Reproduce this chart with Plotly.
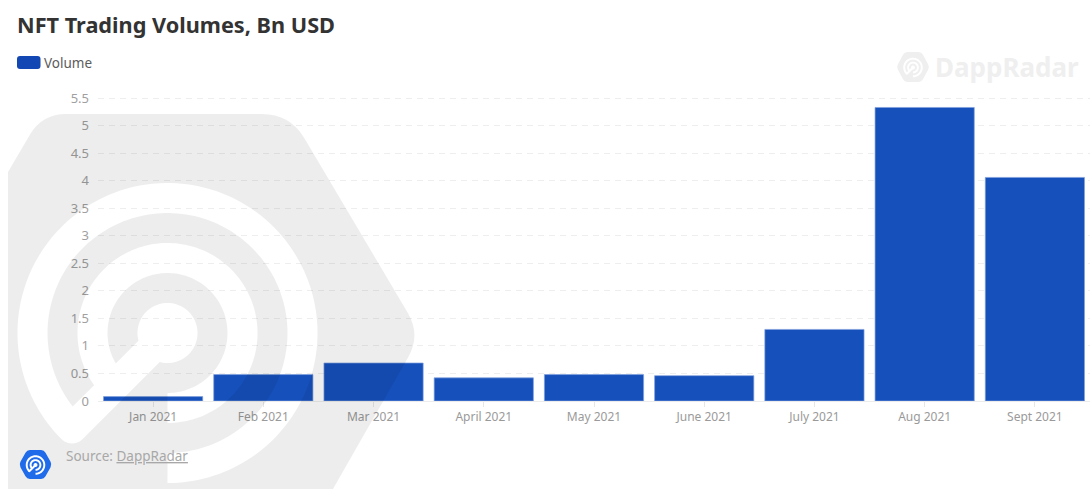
import math
import plotly.graph_objects as go

# Monthly NFT trading volume, billions of USD
months = ["Jan 2021", "Feb 2021", "Mar 2021", "April 2021", "May 2021",
          "June 2021", "July 2021", "Aug 2021", "Sept 2021"]
volumes = [0.08, 0.48, 0.69, 0.42, 0.48, 0.46, 1.30, 5.33, 4.06]
y_ticks = [0, 0.5, 1, 1.5, 2, 2.5, 3, 3.5, 4, 4.5, 5, 5.5]
y_tick_text = ["0", "0.5", "1", "1.5", "2", "2.5", "3", "3.5", "4", "4.5", "5", "5.5"]

W, H = 1090, 489
M_L, M_R, M_T, M_B = 98, 0, 97, 88
FONT = "Noto Sans"
BAR = "#1650bb"


def px(x, y):
    """Page pixels to paper coordinates."""
    return (x - M_L) / (W - M_L - M_R), (H - M_B - y) / (H - M_T - M_B)


def pt(x, y):
    a, b = px(x, y)
    return f"{a:.5f},{b:.5f}"


def rounded_polygon(verts, radii):
    """Closed SVG path through verts with quadratic corners of the given radii."""
    out = []
    n = len(verts)
    for i in range(n):
        p0, p1, p2 = verts[i - 1], verts[i], verts[(i + 1) % n]
        r = radii[i]
        if r == 0:
            out.append(("L", p1))
            continue
        d0 = math.dist(p0, p1)
        d2 = math.dist(p2, p1)
        a = (p1[0] + (p0[0] - p1[0]) * r / d0, p1[1] + (p0[1] - p1[1]) * r / d0)
        b = (p1[0] + (p2[0] - p1[0]) * r / d2, p1[1] + (p2[1] - p1[1]) * r / d2)
        out.append(("L", a))
        out.append(("Q", p1, b))
    s = ""
    for j, item in enumerate(out):
        if item[0] == "L":
            s += ("M" if j == 0 else "L") + pt(*item[1]) + " "
        else:
            s += "Q" + pt(*item[1]) + " " + pt(*item[2]) + " "
    return s + "Z "


def radar_outline(cx, cy, s):
    """Outline of the radar glyph: two open rings, a hub and a handle."""
    pts = []

    def polar(r, deg):
        t = math.radians(deg)
        return cx - r * s * math.sin(t), cy + r * s * math.cos(t)

    def arc(r, a, b):
        steps = max(2, int(abs(b - a) / 2))
        for i in range(steps + 1):
            pts.append(polar(r, a + (b - a) * i / steps))

    def off(r):
        return math.degrees(math.asin(15 / r))

    arc(150, 45, 360)
    arc(120, 360, 45 + off(120))
    arc(90, 45 + off(90), 360)
    arc(60, 360, 45 + off(60))
    arc(30, 45 + off(30), 405 - off(30))
    # handle's lower edge and its round tip: a quarter circle from the lower
    # side of the handle round to its outermost point
    tip_x, tip_y = polar(135, 45)
    ux = uy = math.cos(math.radians(45))
    for i in range(13):
        a = math.radians(90 * i / 12)
        pts.append((tip_x + 15 * s * (ux * math.cos(a) - ux * math.sin(a)),
                    tip_y + 15 * s * (uy * math.cos(a) + uy * math.sin(a))))
    return "M" + " L".join(pt(*p) for p in pts) + " Z "


# Large faded emblem behind the plot, cut off at the left and bottom of the page
emblem_hex = rounded_polygon(
    [(8, 489), (8, 172), (42, 114), (290, 114), (421, 335), (333, 489)],
    [0, 0, 24, 28, 26, 0],
)
emblem = emblem_hex + radar_outline(167.5, 333, 1)


def small_hex(cx, cy, w, h):
    q = w * 0.26
    return rounded_polygon(
        [(cx - w / 2, cy), (cx - q, cy - h / 2), (cx + q, cy - h / 2),
         (cx + w / 2, cy), (cx + q, cy + h / 2), (cx - q, cy + h / 2)],
        [3] * 6,
    )


shapes = [
    dict(type="path", path=emblem, xref="paper", yref="paper", layer="above",
         fillcolor="rgba(0,0,0,0.07)", fillrule="evenodd", line_width=0),
    # source badge
    dict(type="path", path=small_hex(35.5, 464.5, 33, 29), xref="paper", yref="paper",
         layer="above", fillcolor="#1f6bea", line_width=0),
    dict(type="path", path=radar_outline(35.5, 465, 0.065), xref="paper", yref="paper",
         layer="above", fillcolor="#ffffff", line_width=0),
    # faint brand mark, top right
    dict(type="path", path=small_hex(913, 67, 33, 30) + radar_outline(913, 67.5, 0.065),
         xref="paper", yref="paper", layer="below", fillcolor="#efefef",
         fillrule="evenodd", line_width=0),
    # legend swatch
    dict(type="path",
         path=rounded_polygon([(17, 56), (40.5, 56), (40.5, 69), (17, 69)], [3] * 4),
         xref="paper", yref="paper", layer="above", fillcolor="#1347b3", line_width=0),
]


def label(x, y, text, size, color, weight=None):
    ax, ay = px(x, y)
    return dict(x=ax, y=ay, xref="paper", yref="paper", xanchor="left", yanchor="middle",
                text=text, showarrow=False, align="left",
                font=dict(family=FONT, size=size, color=color, weight=weight))


annotations = [
    label(15, 24.5, "NFT Trading Volumes, Bn USD", 21.7, "#333333", 700),
    label(42, 62.5, "Volume", 13.5, "#5c5c5c"),
    label(64, 455.5, "Source: <u>DappRadar</u>", 13.5, "#a8a8a8"),
    label(933, 67, "DappRadar", 26, "#efefef", 700),
]

fig = go.Figure(go.Bar(
    x=months, y=volumes, name="Volume",
    marker=dict(color=BAR, line=dict(color="#7f9fdd", width=0.7)),
    hoverinfo="x+y",
))

fig.update_layout(
    width=W, height=H, autosize=False,
    margin=dict(l=M_L, r=M_R, t=M_T, b=M_B, pad=0),
    paper_bgcolor="#ffffff", plot_bgcolor="rgba(0,0,0,0)",
    showlegend=False, bargap=0.1,
    font=dict(family=FONT, color="#9a9a9a", size=12),
    shapes=shapes, annotations=annotations,
    xaxis=dict(type="category", showgrid=False, zeroline=False,
               showline=True, linecolor="#ececec", linewidth=1,
               ticks="outside", ticklen=5, tickcolor="#e6e6e6", tickwidth=1,
               tickfont=dict(size=12, color="#9a9a9a")),
    # the range stops a hair above 5.5 so the top gridline is still drawn
    yaxis=dict(range=[0, 5.52], tickvals=y_ticks, ticktext=y_tick_text,
               showgrid=True, gridcolor="#eeeeee", griddash="6px,5px", gridwidth=1,
               zeroline=False, ticks="", ticklabelstandoff=8,
               tickfont=dict(size=13, color="#a0a0a0")),
)

fig.write_html("out.html", config=dict(displayModeBar=False))
